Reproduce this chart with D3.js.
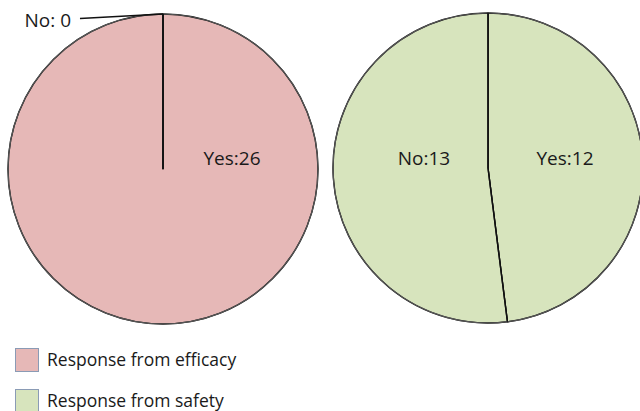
<!DOCTYPE html>
<html>
<head>
<meta charset="utf-8">
<script src="https://cdn.jsdelivr.net/npm/d3@7"></script>
<style>
  html, body { margin: 0; padding: 0; background: #fff; }
  svg { display: block; }
  text { font-family: "Open Sans", "Liberation Sans", sans-serif; fill: #1a1a1a; }
</style>
</head>
<body>
<svg id="chart" width="640" height="411"></svg>
<script>
// Survey responses for each pie
const answers = ["Yes", "No"];
const efficacyCounts = [26, 0];
const safetyCounts = [12, 13];

const seriesNames = ["Response from efficacy", "Response from safety"];
const seriesColors = ["#e6b8b7", "#d7e4bd"];

const svg = d3.select("#chart");
const radius = 155;

const pie = d3.pie().sort(null).value(d => d.value);
const arc = d3.arc().innerRadius(0).outerRadius(radius);

// Label placement per pie: offsets from the pie centre (layout only)
const pies = [
  { counts: efficacyCounts, color: seriesColors[0], cx: 163, cy: 169,
    labels: { Yes: { dx: 69, dy: -11, text: v => "Yes:" + v } } },
  { counts: safetyCounts, color: seriesColors[1], cx: 488, cy: 168,
    labels: { Yes: { dx: 77, dy: -10, text: v => "Yes:" + v },
              No:  { dx: -64, dy: -10, text: v => "No:" + v } } }
];

pies.forEach(p => {
  const data = answers.map((a, i) => ({ answer: a, value: p.counts[i] }));
  const g = svg.append("g").attr("transform", `translate(${p.cx},${p.cy})`);
  const arcs = pie(data);

  g.selectAll("path.slice")
    .data(arcs)
    .join("path")
    .attr("class", "slice")
    .attr("d", arc)
    .attr("fill", p.color)
    .attr("stroke", "#111")
    .attr("stroke-width", 1.4)
    .attr("stroke-linejoin", "round");

  // softer grey rim round the whole pie
  g.append("circle")
    .attr("r", radius)
    .attr("fill", "none")
    .attr("stroke", "#555")
    .attr("stroke-width", 1.2);

  // slice boundaries drawn on top
  arcs.forEach(a => {
    const ang = a.startAngle;
    g.append("line")
      .attr("x1", 0).attr("y1", 0)
      .attr("x2", radius * Math.sin(ang))
      .attr("y2", -radius * Math.cos(ang))
      .attr("stroke", "#111")
      .attr("stroke-width", 1.4);
  });

  arcs.forEach(a => {
    const l = p.labels[a.data.answer];
    if (!l || a.data.value === 0) return;
    g.append("text")
      .attr("x", l.dx).attr("y", l.dy)
      .attr("text-anchor", "middle")
      .attr("dominant-baseline", "central")
      .attr("font-size", 19)
      .text(l.text(a.data.value));
  });

  // zero-count slice gets a callout outside the pie
  arcs.filter(a => a.data.value === 0).forEach(a => {
    const ang = a.startAngle;
    const ex = radius * Math.sin(ang), ey = -radius * Math.cos(ang);
    g.append("line")
      .attr("x1", ex).attr("y1", ey)
      .attr("x2", ex - 83).attr("y2", ey + 4.5)
      .attr("stroke", "#111")
      .attr("stroke-width", 1.6);
    g.append("text")
      .attr("x", ex - 92).attr("y", ey + 6)
      .attr("text-anchor", "end")
      .attr("dominant-baseline", "central")
      .attr("font-size", 19)
      .text(a.data.answer + ": " + a.data.value);
  });
});

// Legend
const legend = svg.append("g").attr("transform", "translate(15,348)");
seriesNames.forEach((name, i) => {
  const row = legend.append("g").attr("transform", `translate(0,${i * 41})`);
  row.append("rect")
    .attr("x", 0.5).attr("y", 0.5)
    .attr("width", 23).attr("height", 23)
    .attr("fill", seriesColors[i])
    .attr("stroke", "#8a9bb5")
    .attr("stroke-width", 1);
  row.append("text")
    .attr("x", 32).attr("y", 11)
    .attr("dominant-baseline", "central")
    .attr("font-size", 17.5)
    .text(name);
});
</script>
</body>
</html>
